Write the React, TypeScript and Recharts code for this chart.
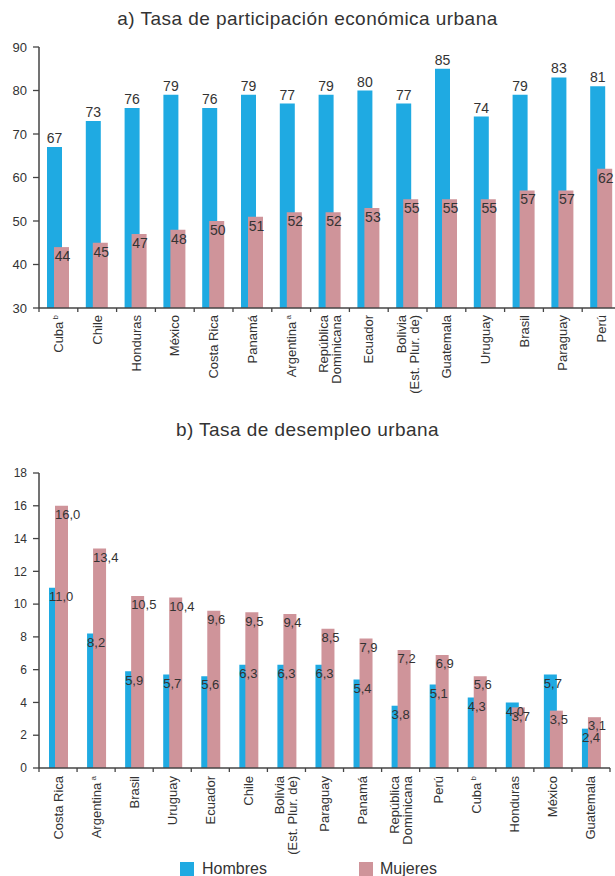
import React from "react";
import { BarChart, Bar, XAxis, YAxis, LabelList } from "recharts";

// a) Tasa de participación económica urbana
const categoriesA = [
  "Cuba",
  "Chile",
  "Honduras",
  "México",
  "Costa Rica",
  "Panamá",
  "Argentina",
  "República\nDominicana",
  "Ecuador",
  "Bolivia\n(Est. Plur. de)",
  "Guatemala",
  "Uruguay",
  "Brasil",
  "Paraguay",
  "Perú",
];
const hombresA = [67, 73, 76, 79, 76, 79, 77, 79, 80, 77, 85, 74, 79, 83, 81];
const mujeresA = [44, 45, 47, 48, 50, 51, 52, 52, 53, 55, 55, 55, 57, 57, 62];
const ticksA = [30, 40, 50, 60, 70, 80, 90];

// b) Tasa de desempleo urbana
const categoriesB = [
  "Costa Rica",
  "Argentina",
  "Brasil",
  "Uruguay",
  "Ecuador",
  "Chile",
  "Bolivia\n(Est. Plur. de)",
  "Paraguay",
  "Panamá",
  "República\nDominicana",
  "Perú",
  "Cuba",
  "Honduras",
  "México",
  "Guatemala",
];
const hombresB = [11.0, 8.2, 5.9, 5.7, 5.6, 6.3, 6.3, 6.3, 5.4, 3.8, 5.1, 4.3, 4.0, 5.7, 2.4];
const mujeresB = [16.0, 13.4, 10.5, 10.4, 9.6, 9.5, 9.4, 8.5, 7.9, 7.2, 6.9, 5.6, 3.7, 3.5, 3.1];
const ticksB = [0, 2, 4, 6, 8, 10, 12, 14, 16, 18];

const footnotes: Record<string, string> = { Cuba: "b", Argentina: "a" };

const BLUE = "#1faae2";
const PINK = "#cf949a";
const INK = "#333333";
const AXIS = "#444444";
const FONT = "'Liberation Sans', Arial, sans-serif";

const dataA = categoriesA.map((name, i) => ({ name, hombres: hombresA[i], mujeres: mujeresA[i] }));
const dataB = categoriesB.map((name, i) => ({ name, hombres: hombresB[i], mujeres: mujeresB[i] }));

const comma = (v: number) => v.toFixed(1).replace(".", ",");

function CountryTick(props: any) {
  const { x, y, payload, index, band, count, gap } = props;
  const lines = String(payload.value).split("\n");
  const lh = 13;
  const first = 4.5 - ((lines.length - 1) * lh) / 2;
  return (
    <g>
      <line x1={x - band / 2} x2={x - band / 2} y1={y} y2={y + 4} stroke={AXIS} strokeWidth={1.3} />
      {index === count - 1 && (
        <line x1={x + band / 2} x2={x + band / 2} y1={y} y2={y + 4} stroke={AXIS} strokeWidth={1.3} />
      )}
      <text
        transform={`translate(${x},${y + gap}) rotate(-90)`}
        textAnchor="end"
        fontSize={13}
        fill={INK}
        fontFamily={FONT}
      >
        {lines.map((l, i) => (
          <tspan key={i} x={0} dy={i === 0 ? first : lh}>
            {l}
            {footnotes[l] && (
              <tspan fontSize={8} dy={-5}>
                {" " + footnotes[l]}
              </tspan>
            )}
          </tspan>
        ))}
      </text>
    </g>
  );
}

const titleStyle: React.CSSProperties = {
  position: "absolute",
  left: 0,
  width: 615,
  textAlign: "center",
  fontSize: 19,
  letterSpacing: 0.45,
  color: INK,
};

export default function App() {
  const widthA = 625;
  const marginA = { top: 47, right: 4, bottom: 0, left: 0 };
  const bandA = (widthA - marginA.left - marginA.right - 39) / categoriesA.length;
  const widthB = 615;
  const marginB = { top: 33, right: 5, bottom: 0, left: 0 };
  const bandB = (widthB - marginB.left - marginB.right - 39) / categoriesB.length;

  return (
    <div style={{ position: "relative", width: 615, height: 876, overflow: "hidden", fontFamily: FONT, background: "#fff" }}>
      <style>{`body{margin:0}`}</style>
      <div style={{ ...titleStyle, top: 8 }}>a) Tasa de participación económica urbana</div>
      <div style={{ position: "absolute", top: 0, left: 0 }}>
        <BarChart width={widthA} height={400} data={dataA} margin={marginA} barGap={-8}>
          <XAxis
            dataKey="name"
            interval={0}
            height={92}
            tickSize={0}
            tickMargin={0}
            tickLine={false}
            axisLine={{ stroke: AXIS, strokeWidth: 1.5 }}
            tick={(p: any) => <CountryTick {...p} band={bandA} count={categoriesA.length} gap={7} />}
          />
          <YAxis
            width={39}
            domain={[30, 90]}
            ticks={ticksA}
            tickSize={6}
            tickMargin={6}
            tick={{ fill: INK, fontSize: 13 }}
            axisLine={{ stroke: AXIS, strokeWidth: 1.5 }}
            tickLine={{ stroke: AXIS, strokeWidth: 1.3 }}
          />
          <Bar dataKey="hombres" fill={BLUE} barSize={15} isAnimationActive={false}>
            <LabelList dataKey="hombres" position="top" offset={4} fill={INK} fontSize={14} />
          </Bar>
          <Bar dataKey="mujeres" fill={PINK} barSize={15} isAnimationActive={false}>
            <LabelList dataKey="mujeres" position="insideTop" offset={4} dx={1} fill={INK} fontSize={14} />
          </Bar>
        </BarChart>
      </div>

      <div style={{ ...titleStyle, top: 419 }}>b) Tasa de desempleo urbana</div>
      <div style={{ position: "absolute", top: 440, left: 0 }}>
        <BarChart width={widthB} height={436} data={dataB} margin={marginB} barGap={-7}>
          <XAxis
            dataKey="name"
            interval={0}
            height={108}
            tickSize={0}
            tickMargin={0}
            tickLine={false}
            axisLine={{ stroke: AXIS, strokeWidth: 1.5 }}
            tick={(p: any) => <CountryTick {...p} band={bandB} count={categoriesB.length} gap={8} />}
          />
          <YAxis
            width={39}
            domain={[0, 18]}
            ticks={ticksB}
            tickSize={6}
            tickMargin={6}
            tick={{ fill: INK, fontSize: 12 }}
            axisLine={{ stroke: AXIS, strokeWidth: 1.5 }}
            tickLine={{ stroke: AXIS, strokeWidth: 1.3 }}
          />
          <Bar dataKey="hombres" fill={BLUE} barSize={13} isAnimationActive={false}>
            <LabelList dataKey="hombres" position="insideTopLeft" offset={4} dx={-4} fill={INK} fontSize={13} formatter={comma} />
          </Bar>
          <Bar dataKey="mujeres" fill={PINK} barSize={13} isAnimationActive={false}>
            <LabelList dataKey="mujeres" position="insideTopLeft" offset={4} dx={-4} fill={INK} fontSize={13} formatter={comma} />
          </Bar>
        </BarChart>
      </div>

      <div style={{ position: "absolute", top: 862, left: 180, width: 14, height: 14, background: BLUE }} />
      <div style={{ position: "absolute", top: 860, left: 202, fontSize: 16, color: INK, lineHeight: "18px" }}>Hombres</div>
      <div style={{ position: "absolute", top: 862, left: 359, width: 14, height: 14, background: PINK }} />
      <div style={{ position: "absolute", top: 860, left: 380, fontSize: 16, color: INK, lineHeight: "18px" }}>Mujeres</div>
    </div>
  );
}
